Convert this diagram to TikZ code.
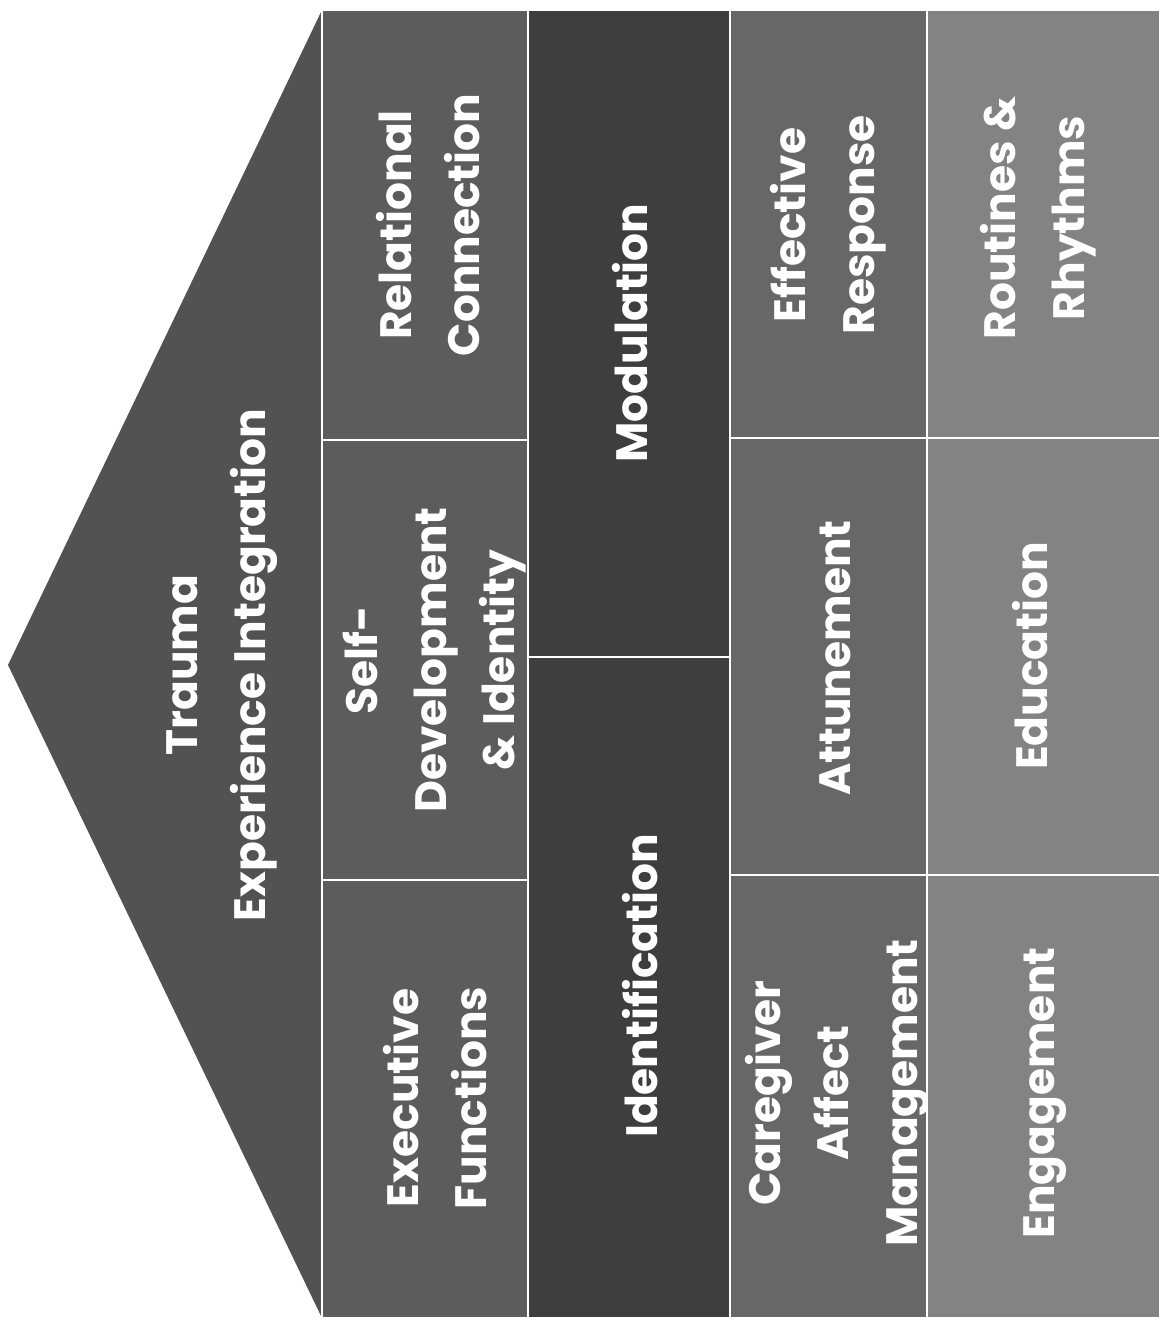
\documentclass[tikz,border=0pt]{standalone}
\usepackage{fontspec}
\setmainfont{Poppins}
\definecolor{roofgray}{HTML}{525252}
\definecolor{colA}{HTML}{5C5C5C}
\definecolor{colB}{HTML}{3E3E3E}
\definecolor{colC}{HTML}{676767}
\definecolor{colD}{HTML}{838383}
\tikzset{
  cell/.style={fill=#1, draw=white, line width=1.6pt},
  txt/.style={text=white, font=\fontsize{25}{39}\selectfont\bfseries,
    align=center, rotate=90, inner sep=0pt}
}
\begin{document}
\begin{tikzpicture}[x=0.02cm,y=-0.02cm]
      \useasboundingbox (0,0) rectangle (1165,1321);
      % roof
      \fill[roofgray] (8,665) -- (322,10) -- (322,1318) -- cycle;
      \node[txt] (trauma) at (222,665) {Trauma\\Experience Integration};

      % first column
      \draw[cell=colA] (322,10) rectangle (528,440);
      \draw[cell=colA] (322,440) rectangle (528,880);
      \draw[cell=colA] (322,880) rectangle (528,1318);
      \node[txt] (relational) at (428,225) {Relational\\Connection};
      \node[txt] (self) at (435,660) {Self-\\Development\\\& Identity};
      \node[txt] (executive) at (435,1098) {Executive\\Functions};

      % second column
      \draw[cell=colB] (528,10) rectangle (730,657);
      \draw[cell=colB] (528,657) rectangle (730,1318);
      \node[txt] (modulation) at (630,333) {Modulation};
      \node[txt] (identification) at (640,986) {Identification};

      % third column
      \draw[cell=colC] (730,10) rectangle (927,438);
      \draw[cell=colC] (730,438) rectangle (927,875);
      \draw[cell=colC] (730,875) rectangle (927,1318);
      \node[txt] (effective) at (828,225) {Effective\\Response};
      \node[txt] (attunement) at (835,658) {Attunement};
      \node[txt] (caregiver) at (837,1093) {Caregiver\\Affect\\Management};

      % fourth column
      \draw[cell=colD] (927,10) rectangle (1160,438);
      \draw[cell=colD] (927,438) rectangle (1160,875);
      \draw[cell=colD] (927,875) rectangle (1160,1318);
      \node[txt] (routines) at (1038,218) {Routines \&\\Rhythms};
      \node[txt] (education) at (1030,656) {Education};
      \node[txt] (engagement) at (1045,1093) {Engagement};
    \end{tikzpicture}
\end{document}
